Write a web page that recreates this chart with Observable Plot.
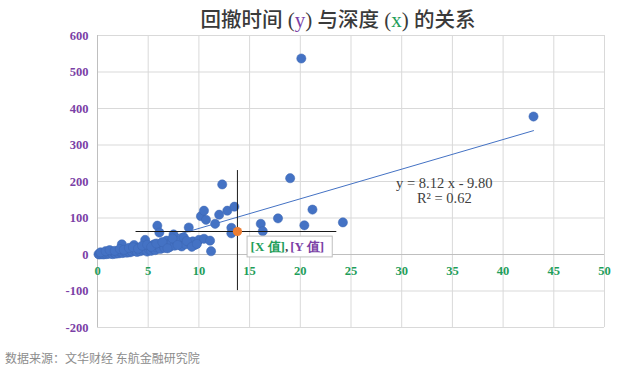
<!DOCTYPE html>
<html><head><meta charset="utf-8">
<script src="https://cdn.jsdelivr.net/npm/d3@7"></script>
<script src="https://cdn.jsdelivr.net/npm/@observablehq/plot@0.6"></script>
<style>
body{margin:0;background:#fff;}
#wrap{position:relative;width:621px;height:370px;overflow:hidden;background:#fff;}
#title{position:absolute;top:3px;left:338px;transform:translateX(-50%);white-space:nowrap;font-family:"Noto Sans CJK SC",sans-serif;font-size:20.5px;font-weight:500;color:#3a3a3a;}
#title .lat{font-family:"Liberation Serif",serif;font-size:21px;}
#chart{position:absolute;top:0;left:0;}
#src{position:absolute;left:5px;top:349px;font-family:"Noto Sans CJK SC",sans-serif;font-size:12px;color:#8c8c8c;}
</style></head>
<body><div id="wrap">
<div id="chart"></div>
<div id="title">回撤时间<span class="lat"> (<span style="color:#7b3fa6">y</span>) </span>与深度<span class="lat"> (<span style="color:#1f9e5a">x</span>) </span>的关系</div>
<div id="src">数据来源：文华财经 东航金融研究院</div>
</div>
<script>
// depth (x) values
const depthX = [0.1,0.2,0.3,0.4,0.5,0.6,0.7,0.8,0.9,1.0,1.1,1.2,1.3,1.4,1.5,1.6,1.7,1.8,1.9,2.0,
  2.1,2.2,2.3,2.4,2.5,2.6,2.7,2.8,2.9,3.0,3.1,3.2,3.3,3.4,3.5,3.6,3.7,3.8,3.9,4.0,
  4.1,4.2,4.3,4.4,4.5,4.6,4.7,4.8,4.9,5.0,5.1,5.2,5.3,5.4,5.5,5.6,5.7,5.8,5.9,6.0,
  6.1,6.2,6.3,6.5,6.6,6.8,7.0,7.1,7.3,7.5,7.6,7.8,8.0,8.2,8.3,8.5,8.7,9.0,9.1,9.4,
  9.6,10.0,10.2,10.5,10.5,10.7,11.1,11.2,11.6,12.0,12.3,12.8,13.2,13.2,13.5,16.1,16.3,17.8,19.0,20.1,
  20.4,21.2,24.2,43.0,
  0.3,0.8,1.2,1.7,2.2,2.6,3.1,3.5,4.0,4.4,4.9,5.3,5.8,6.4,6.9,7.4,7.9,8.8,9.3,9.8];
// drawdown time (y) values
const timeY = [1,0,2,1,3,0,2,4,1,3,5,2,6,3,1,7,4,2,8,5,
  3,9,6,28,4,10,7,12,5,9,14,6,11,8,16,26,10,13,7,18,
  12,9,15,20,11,14,40,17,8,22,13,19,10,25,16,28,12,20,79,23,
  60,15,30,25,18,38,28,20,33,55,24,35,30,42,22,47,28,74,32,36,
  26,40,105,120,43,95,38,9,84,109,192,120,73,58,131,84,64,99,209,537,
  80,123,88,378,
  6,9,12,10,15,13,18,20,16,24,27,21,30,34,17,44,26,37,21,29];
// highlighted point with its ranges
const markX = [13.8], markY = [63];
const rangeX = [3.8, 23.6], rangeY = [-99, 230];
// trend line y = 8.12 x - 9.80, R² = 0.62
const slope = 8.12, intercept = -9.80;
const trendLabel = ["y = 8.12 x - 9.80", "R² = 0.62"];
const xTicks = [0,5,10,15,20,25,30,35,40,45,50];
const yTicks = [-200,-100,0,100,200,300,400,500,600];

const pts = depthX.map((x,i)=>({x, y: timeY[i]}));
const trend = [0, 43.0].map(x=>({x, y: slope*x + intercept}));
const purple = "#7b3fa6", green = "#1f9e5a", blue = "#4472c4";

const chart = Plot.plot({
  width: 621, height: 345,
  marginLeft: 97, marginRight: 17, marginTop: 35, marginBottom: 18,
  x: {domain: [0,50], axis: null},
  y: {domain: [-200,600], axis: null},
  style: {fontFamily: "Liberation Serif, serif", background: "transparent"},
  marks: [
    Plot.ruleX(xTicks, {stroke: "#d9d9d9"}),
    Plot.ruleY(yTicks, {stroke: "#d9d9d9"}),
    Plot.ruleY([0], {stroke: "#bfbfbf"}),
    Plot.ruleX([0], {stroke: "#bfbfbf"}),
    Plot.text(yTicks, {y: d=>d, text: d=>String(d), frameAnchor: "left", textAnchor: "end", dx: -9, fill: purple, fontWeight: "bold", fontSize: 12.5}),
    Plot.text(xTicks, {x: d=>d, y: 0, text: d=>String(d), dy: 16, fill: green, fontWeight: "bold", fontSize: 12.5}),
    Plot.line(trend, {x: "x", y: "y", stroke: blue, strokeWidth: 1}),
    Plot.dot(pts, {x: "x", y: "y", r: 4.6, fill: blue, stroke: "#3d66b3", strokeWidth: 0.5}),
    Plot.ruleX(markX, {y1: rangeY[0], y2: rangeY[1], stroke: "#1a1a1a", strokeWidth: 1}),
    Plot.ruleY(markY, {x1: rangeX[0], x2: rangeX[1], stroke: "#1a1a1a", strokeWidth: 1}),
    Plot.dot(markX.map((x,i)=>({x, y: markY[i]})), {x: "x", y: "y", r: 4.6, fill: "#ed7d31"}),
    Plot.rect([{x1: 14.8, x2: 23.2, y1: -8, y2: 49}], {x1: "x1", x2: "x2", y1: "y1", y2: "y2", fill: "white", stroke: "#bfbfbf"}),
    Plot.text(["[X 值]"], {x: 15.1, y: 20, text: d=>d, textAnchor: "start", fill: green, fontWeight: "bold", fontSize: 13}),
    Plot.text([", "], {x: 18.5, y: 20, text: d=>d, textAnchor: "start", fill: "#404040", fontWeight: "bold", fontSize: 13}),
    Plot.text(["[Y 值]"], {x: 19.0, y: 20, text: d=>d, textAnchor: "start", fill: purple, fontWeight: "bold", fontSize: 13}),
    Plot.text([trendLabel[0]], {x: 34.2, y: 194, text: d=>d, fill: "#404040", fontSize: 14.5}),
    Plot.text([trendLabel[1]], {x: 34.2, y: 153, text: d=>d, fill: "#404040", fontSize: 14.5})
  ]
});
document.getElementById("chart").appendChild(chart);
</script>
</body></html>
